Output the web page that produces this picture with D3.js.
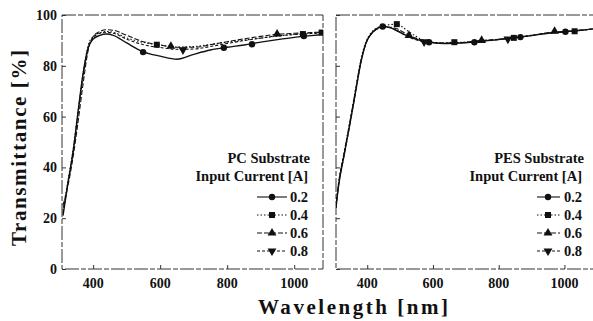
<!DOCTYPE html>
<html>
<head>
<meta charset="utf-8">
<script src="https://cdn.jsdelivr.net/npm/d3@7"></script>
<style>
  html, body { margin: 0; padding: 0; background: #fff; }
  svg { display: block; font-family: "Liberation Serif", "Times New Roman", serif; }
  .lbl { font-weight: bold; fill: #111; }
</style>
</head>
<body>
<svg id="chart" width="593" height="321"></svg>
<script>
/* Transmittance vs wavelength, PC and PES substrates (D3 v7) */

// ── Data : PC substrate ──────────────────────────────────────
const PC_WL   = [310, 325, 340, 355, 370, 385, 400, 420, 440, 460, 500, 550, 600, 650, 700, 750, 800, 850, 900, 950, 1000, 1050, 1086];
const PC_02   = [21, 34, 46, 62, 77, 87, 90.5, 92, 92.5, 92, 89, 85.5, 83.8, 82.6, 84.5, 86.2, 87.3, 88.2, 89.3, 90.3, 91.2, 91.9, 92.3];
const PC_04   = [23, 35, 47, 62, 77, 88, 91.5, 93, 93.5, 93.2, 91, 89.2, 88.2, 87.4, 87.6, 88.4, 89.3, 90.1, 90.9, 91.7, 92.4, 92.9, 93.2];
const PC_06   = [25, 33, 44, 58, 73, 86, 91.5, 93.5, 94.2, 94, 92, 89.5, 88.2, 87.3, 87.3, 88.3, 89.5, 90.6, 91.6, 92.4, 92.8, 93.1, 93.3];
const PC_08   = [22, 34, 46, 61, 76, 87, 91, 92.8, 93.2, 92.8, 90.5, 88.3, 87.2, 86.5, 86.6, 87.6, 88.8, 89.9, 90.9, 91.8, 92.3, 92.7, 92.9];

const PC_MK_02 = [[549, 85.4], [790, 87.1], [874, 88.5], [1029, 91.7]];
const PC_MK_04 = [[590, 88.3], [1026, 92.5], [1082, 93.1]];
const PC_MK_06 = [[632, 87.7], [949, 92.5]];
const PC_MK_08 = [[668, 86.3]];

// ── Data : PES substrate ─────────────────────────────────────
const PES_WL  = [305, 312, 330, 350, 365, 380, 395, 415, 447, 470, 490, 510, 527, 550, 573, 600, 634, 665, 700, 750, 800, 850, 900, 950, 1000, 1050, 1096];
const PES_02  = [24, 32, 45, 59, 70, 81, 88.5, 93, 95.5, 95, 93.8, 92.5, 91.6, 90.4, 89.6, 89.1, 88.8, 88.9, 89.1, 89.7, 90.3, 91.1, 91.9, 92.8, 93.4, 94, 94.7];
const PES_04  = [25, 33, 46, 60, 71, 82, 89, 93.5, 95.7, 96.2, 96.4, 95, 93.4, 91.5, 90, 89.3, 89, 89.3, 89.3, 89.8, 90.4, 91.1, 92, 92.9, 93.4, 94, 94.6];
const PES_06  = [24, 32, 45, 59, 70, 81, 88.5, 93, 95, 95.2, 94.6, 93.2, 92, 90.8, 89.8, 89.2, 88.9, 89, 89.3, 90, 90.4, 91, 91.9, 93, 93.5, 94, 94.6];
const PES_08  = [25, 33, 46, 60, 71, 81, 88.5, 93, 95.2, 95, 94, 92.4, 91.2, 90.2, 89.4, 89.1, 88.9, 89, 89.2, 89.8, 90.4, 91.1, 92, 92.8, 93.4, 94, 94.6];

const PES_MK_02 = [[447, 95.5], [588, 89.3], [726, 89.3], [866, 91.3], [1003, 93.4]];
const PES_MK_04 = [[490, 96.4], [665, 89.3], [846, 91], [1031, 93.6]];
const PES_MK_06 = [[527, 92.0], [748, 90.0], [970, 93.6]];
const PES_MK_08 = [[573, 89.4], [828, 90.5]];

// ── Ticks / labels ───────────────────────────────────────────
const X_TICKS = [400, 600, 800, 1000];
const Y_TICKS = [0, 20, 40, 60, 80, 100];
const CURRENTS = ["0.2", "0.4", "0.6", "0.8"];

// ── Styles ───────────────────────────────────────────────────
const DASH   = { "0.2": null, "0.4": "1.5,2", "0.6": "5,2", "0.8": "3,2" };
const SYMBOL = { "0.2": "circle", "0.4": "square", "0.6": "up", "0.8": "down" };
const INK    = "#111";

const Y_TOP = 15, Y_BOT = 269;

const svg = d3.select("#chart");
const yScale = d3.scaleLinear().domain([0, 100]).range([Y_BOT, Y_TOP]);

// ═══════════════════════════════════════════════════════════════
// marker helper
// ═══════════════════════════════════════════════════════════════
function drawMarker(g, kind, x, y) {
  if (kind === "circle") {
    g.append("circle").attr("cx", x).attr("cy", y).attr("r", 3.2).attr("fill", INK);
  } else if (kind === "square") {
    g.append("rect").attr("x", x - 3).attr("y", y - 3).attr("width", 6).attr("height", 6).attr("fill", INK);
  } else {
    g.append("path")
      .attr("d", d3.symbol(d3.symbolTriangle, 34)())
      .attr("transform", `translate(${x},${y}) rotate(${kind === "down" ? 180 : 0})`)
      .attr("fill", INK);
  }
}

// ═══════════════════════════════════════════════════════════════
// panel builder
// ═══════════════════════════════════════════════════════════════
function buildPanel(opt) {
  const x = d3.scaleLinear().domain(opt.domain).range([opt.x0, opt.x1]);
  const g = svg.append("g");

  // frame (scanned look: slightly broken lines)
  g.append("rect")
    .attr("x", opt.x0).attr("y", Y_TOP)
    .attr("width", opt.x1 - opt.x0).attr("height", Y_BOT - Y_TOP)
    .attr("fill", "none").attr("stroke", "#333").attr("stroke-width", 1)
    .attr("stroke-dasharray", "14,2,5,2");

  // inward ticks
  const xa = g.append("g").attr("transform", `translate(0,${Y_BOT})`)
    .call(d3.axisTop(x).tickValues(X_TICKS).tickSize(4).tickFormat(""));
  const ya = g.append("g").attr("transform", `translate(${opt.x0},0)`)
    .call(d3.axisRight(yScale).tickValues(Y_TICKS).tickSize(4).tickFormat(""));
  [xa, ya].forEach(a => {
    a.select(".domain").remove();
    a.selectAll("line").attr("stroke", "#333");
  });

  // x tick labels
  g.selectAll(".xl").data(X_TICKS).join("text")
    .attr("class", "lbl")
    .attr("x", d => x(d)).attr("y", 288)
    .attr("text-anchor", "middle").attr("font-size", 14)
    .text(d => d);

  // y tick labels (left panel only)
  if (opt.yLabels) {
    g.selectAll(".yl").data(Y_TICKS).join("text")
      .attr("class", "lbl")
      .attr("x", opt.x0 - 5).attr("y", d => yScale(d) + 5)
      .attr("text-anchor", "end").attr("font-size", 14)
      .text(d => d);
  }

  // lines
  const line = d3.line()
    .x((d, i) => x(opt.wl[i]))
    .y(d => yScale(d))
    .curve(d3.curveMonotoneX);

  const clipId = "clip-" + opt.name;
  svg.append("defs").append("clipPath").attr("id", clipId)
    .append("rect").attr("x", opt.x0).attr("y", Y_TOP - 5)
    .attr("width", opt.x1 - opt.x0).attr("height", Y_BOT - Y_TOP + 5);

  const lg = g.append("g").attr("clip-path", `url(#${clipId})`);
  CURRENTS.forEach((c, k) => {
    lg.append("path")
      .attr("d", line(opt.series[k]))
      .attr("fill", "none").attr("stroke", INK)
      .attr("stroke-width", c === "0.2" ? 1.4 : 1.1)
      .attr("stroke-dasharray", DASH[c]);
    opt.marks[k].forEach(([w, t]) => drawMarker(lg, SYMBOL[c], x(w), yScale(t)));
  });

  // legend
  g.append("text").attr("class", "lbl").attr("font-size", 14.5)
    .attr("x", opt.legRight).attr("y", 163).attr("text-anchor", "end")
    .text(opt.title);
  g.append("text").attr("class", "lbl").attr("font-size", 14.5)
    .attr("x", opt.legRight - 2).attr("y", 181).attr("text-anchor", "end")
    .text("Input Current [A]");

  CURRENTS.forEach((c, k) => {
    const by = 202 + k * 18;
    const my = by - 5;
    g.append("line")
      .attr("x1", opt.legLine[0]).attr("x2", opt.legLine[1])
      .attr("y1", my).attr("y2", my)
      .attr("stroke", INK).attr("stroke-width", 1.1)
      .attr("stroke-dasharray", DASH[c]);
    drawMarker(g, SYMBOL[c], opt.legMark, my);
    g.append("text").attr("class", "lbl").attr("font-size", 14.5)
      .attr("x", opt.legRight - 2).attr("y", by).attr("text-anchor", "end")
      .text(c);
  });
}

// ═══════════════════════════════════════════════════════════════
// build both panels
// ═══════════════════════════════════════════════════════════════
buildPanel({
  name: "pc", x0: 62, x1: 323, domain: [307, 1086], yLabels: true,
  wl: PC_WL, series: [PC_02, PC_04, PC_06, PC_08],
  marks: [PC_MK_02, PC_MK_04, PC_MK_06, PC_MK_08],
  title: "PC Substrate", legRight: 310, legLine: [257, 287], legMark: 272
});

buildPanel({
  name: "pes", x0: 336, x1: 596, domain: [305, 1096], yLabels: false,
  wl: PES_WL, series: [PES_02, PES_04, PES_06, PES_08],
  marks: [PES_MK_02, PES_MK_04, PES_MK_06, PES_MK_08],
  title: "PES Substrate", legRight: 584, legLine: [537, 560], legMark: 548
});

// ── Axis titles ──────────────────────────────────────────────
svg.append("text").attr("class", "lbl")
  .attr("transform", "translate(26,148) rotate(-90)")
  .attr("text-anchor", "middle").attr("font-size", 21)
  .attr("textLength", 196).attr("lengthAdjust", "spacing")
  .text("Transmittance [%]");

svg.append("text").attr("class", "lbl")
  .attr("x", 353).attr("y", 314)
  .attr("text-anchor", "middle").attr("font-size", 21)
  .attr("textLength", 190).attr("lengthAdjust", "spacing")
  .text("Wavelength [nm]");
</script>
</body>
</html>
